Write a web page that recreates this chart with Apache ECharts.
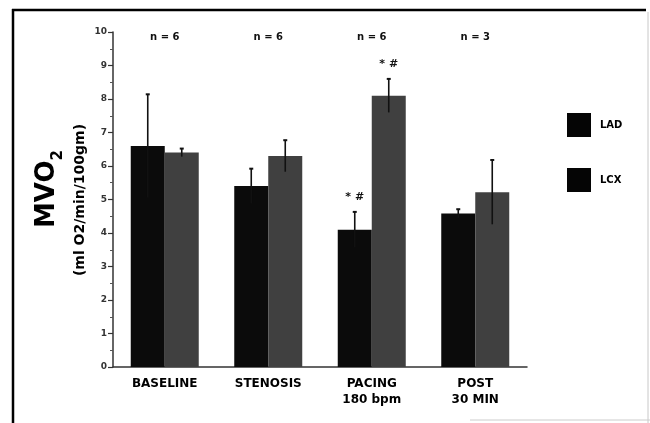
<!DOCTYPE html>
<html>
<head>
<meta charset="utf-8">
<script src="https://cdn.jsdelivr.net/npm/echarts@6/dist/echarts.min.js"></script>
<style>
  html, body { margin: 0; padding: 0; background: #fff; }
  #chart { width: 650px; height: 423px; }
</style>
</head>
<body>
<div id="chart"></div>
<script>
  // values
  const categories = ['BASELINE', 'STENOSIS', 'PACING\n180 bpm', 'POST\n30 MIN'];
  const ladMean = [6.6, 5.4, 4.1, 4.58];
  const ladErr = [1.54, 0.52, 0.53, 0.13];
  const lcxMean = [6.4, 6.3, 8.1, 5.22];
  const lcxErr = [0.12, 0.47, 0.5, 0.96];
  const ladMarks = ['', '', '* #', ''];
  const lcxMarks = ['', '', '* #', ''];
  const nLabels = ['n = 6', 'n = 6', 'n = 6', 'n = 3'];

  const FONT = 'DejaVu Sans';
  const BAR_W = 34;

  const chart = echarts.init(document.getElementById('chart'));

  const errorRender = (means, errs, marks, side) => (params, api) => {
    const i = params.dataIndex;
    const x = api.coord([i, means[i]])[0] + side * BAR_W / 2;
    const top = api.coord([i, means[i] + errs[i]])[1];
    const bot = api.coord([i, means[i] - errs[i]])[1];
    const style = { stroke: '#111', lineWidth: 1.6 };
    const children = [
      { type: 'line', shape: { x1: x, y1: top, x2: x, y2: bot }, style },
      { type: 'line', shape: { x1: x - 2, y1: top, x2: x + 2, y2: top }, style: { stroke: '#111', lineWidth: 2 } },
    ];
    if (marks[i]) {
      children.push({
        type: 'text',
        style: {
          x: x, y: top - 15, text: marks[i], align: 'center', verticalAlign: 'middle',
          font: 'bold 11px "' + FONT + '"', fill: '#111',
        },
      });
    }
    return { type: 'group', children };
  };

  const option = {
    animation: false,
    backgroundColor: '#fff',
    grid: { left: 113, right: 123, top: 32, bottom: 56 },
    legend: {
      orient: 'vertical',
      left: 567,
      top: 113,
      padding: 0,
      itemWidth: 24,
      itemHeight: 24,
      itemGap: 31,
      icon: 'rect',
      data: [
        { name: 'LAD', itemStyle: { color: '#050505' } },
        { name: 'LCX', itemStyle: { color: '#050505' } },
      ],
      textStyle: { fontFamily: FONT, fontWeight: 'bold', fontSize: 10, color: '#000', padding: [0, 0, 0, 4] },
    },
    xAxis: {
      type: 'category',
      data: categories,
      axisLine: { lineStyle: { color: '#333', width: 1.5 } },
      axisTick: { show: false },
      axisLabel: {
        fontFamily: FONT, fontWeight: 'bold', fontSize: 12, color: '#000',
        lineHeight: 16, margin: 9,
      },
    },
    yAxis: {
      type: 'value',
      min: 0,
      max: 10,
      interval: 1,
      splitLine: { show: false },
      axisLine: { show: true, lineStyle: { color: '#333', width: 1.5 } },
      axisTick: { show: true, length: 5, lineStyle: { color: '#333', width: 1.2 } },
      minorTick: { show: true, splitNumber: 2, length: 3, lineStyle: { color: '#555' } },
      axisLabel: { fontFamily: FONT, fontWeight: 'bold', fontSize: 9, color: '#333', margin: 6 },
    },
    graphic: [
      { type: 'line', shape: { x1: 13, y1: 9, x2: 13, y2: 423 }, style: { stroke: '#000', lineWidth: 2.5 } },
      { type: 'line', shape: { x1: 12, y1: 10, x2: 646, y2: 10 }, style: { stroke: '#000', lineWidth: 2.5 } },
      { type: 'line', shape: { x1: 648, y1: 12, x2: 648, y2: 423 }, style: { stroke: '#c8c8c8', lineWidth: 1 } },
      { type: 'line', shape: { x1: 470, y1: 420, x2: 650, y2: 420 }, style: { stroke: '#ccc', lineWidth: 1 } },
      {
        type: 'text', x: 45, y: 189, rotation: Math.PI / 2,
        style: {
          text: '{big|MVO}{sub|2}', align: 'center', verticalAlign: 'middle',
          rich: {
            big: { fontFamily: FONT, fontWeight: 'bold', fontSize: 26, fill: '#000', lineHeight: 30, verticalAlign: 'bottom' },
            sub: { fontFamily: FONT, fontWeight: 'bold', fontSize: 15, fill: '#000', lineHeight: 30, verticalAlign: 'bottom', padding: [0, 0, -6, 0] },
          },
        },
      },
      {
        type: 'text', x: 80, y: 200, rotation: Math.PI / 2,
        style: {
          text: '(ml O2/min/100gm)', align: 'center', verticalAlign: 'middle',
          fontFamily: FONT, fontWeight: 'bold', fontSize: 14, fill: '#000',
        },
      },
    ],
    series: [
      {
        name: 'LAD',
        type: 'bar',
        data: ladMean,
        barWidth: BAR_W,
        barGap: '0%',
        itemStyle: { color: '#0b0b0b' },
      },
      {
        name: 'LCX',
        type: 'bar',
        data: lcxMean,
        barWidth: BAR_W,
        barGap: '0%',
        itemStyle: { color: '#404040' },
      },
      {
        type: 'custom',
        renderItem: errorRender(ladMean, ladErr, ladMarks, -1),
        data: ladMean.map((m, i) => [i, m + ladErr[i]]),
        z: 5,
      },
      {
        type: 'custom',
        renderItem: errorRender(lcxMean, lcxErr, lcxMarks, 1),
        data: lcxMean.map((m, i) => [i, m + lcxErr[i]]),
        z: 5,
      },
      {
        type: 'custom',
        renderItem: (params, api) => {
          const p = api.coord([params.dataIndex, 10]);
          return {
            type: 'text',
            style: {
              x: p[0], y: p[1] + 5, text: nLabels[params.dataIndex], align: 'center', verticalAlign: 'middle',
              font: 'bold 10px "' + FONT + '"', fill: '#111',
            },
          };
        },
        data: nLabels.map((t, i) => [i, 10]),
        z: 5,
      },
    ],
  };

  chart.setOption(option);
</script>
</body>
</html>
